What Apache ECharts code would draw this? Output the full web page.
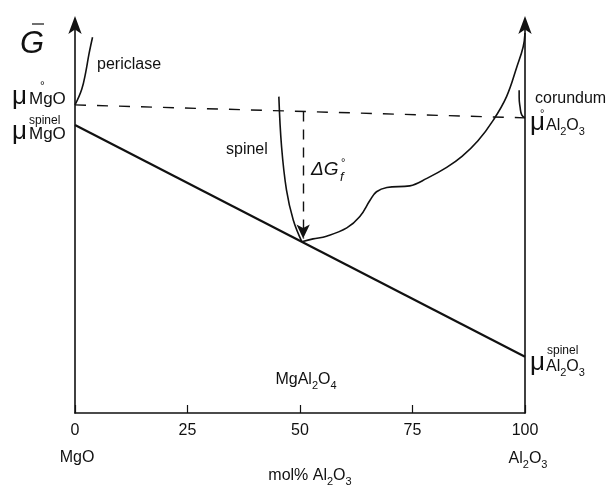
<!DOCTYPE html>
<html>
<head>
<meta charset="utf-8">
<script src="https://cdn.jsdelivr.net/npm/echarts@6/dist/echarts.min.js"></script>
<style>
  html, body { margin: 0; padding: 0; background: #fff; }
  #chart { width: 613px; height: 487px; }
</style>
</head>
<body>
<div id="chart"></div>
<script>
// composition axis (mol% Al2O3) and free energy in arbitrary units
const xTicks = [0, 25, 50, 75, 100]
const spinelLine = [[0, 73.3], [100, 14.3]]         // mu spinel MgO -> mu spinel Al2O3
const pureLine = [[0, 78.4], [100, 75.1]]           // mu° MgO -> mu° Al2O3
const periclase = [[0, 78.4], [1.5, 82.4], [2.4, 86.8], [3.1, 91.3], [3.9, 95.6]]
const corundum = [[100, 75.1], [99.3, 75.8], [98.9, 77.9], [98.7, 80.4], [98.7, 82.1]]
const spinelLeft = [[50.4, 43.6], [48.5, 49.1], [47.0, 56.7], [45.9, 67.8], [45.3, 80.5]]
const spinelRight = [[50.4, 43.6], [52.9, 44.3], [55.9, 45.0], [60.4, 47.1], [63.3, 50.0],
  [65.6, 54.2], [67.0, 56.3], [69.3, 57.4], [74.4, 57.8], [78.2, 59.7], [82.6, 62.5],
  [86.0, 65.3], [89.5, 69.2], [93.0, 74.6], [95.9, 80.5], [98.2, 88.1], [99.6, 93.2], [100, 96.7]]
const deltaG = [[50.7, 76.7], [50.7, 44.4]]

const FONT = '"Liberation Sans", Arial, sans-serif'
const INK = '#111'

function txt(x, y, s, size, extra) {
  let style = Object.assign({
    text: s, fontSize: size, fontFamily: FONT, fill: INK,
    textAlign: 'left', textVerticalAlign: 'middle', align: 'left', verticalAlign: 'middle'
  }, extra || {})
  return { type: 'text', x: x, y: y, silent: true, style: style }
}

// formula text, digits become subscripts
function chem(x, y, s, size, extra) {
  let rich = s.replace(/(\d)/g, '{s|$1}')
  return txt(x, y, rich, size, Object.assign({
    lineHeight: size + 6,
    rich: { s: { fontSize: Math.round(size * 0.7), lineHeight: Math.round(size * 0.7), fontFamily: FONT, fill: INK, verticalAlign: 'bottom' } }
  }, extra || {}))
}

const line = (data, extra) => Object.assign({
  type: 'line', data: data, symbol: 'none', silent: true,
  lineStyle: { color: INK, width: 1.6 }
}, extra || {})

let option = {
  animation: false,
  backgroundColor: '#fff',
  grid: { left: 75, right: 88, top: 20, bottom: 74 },
  xAxis: {
    type: 'value', min: 0, max: 100, interval: 25,
    axisLine: { lineStyle: { color: INK, width: 1.6 } },
    axisTick: { inside: true, length: 8, lineStyle: { color: INK, width: 1.2 } },
    axisLabel: {
      margin: 10, fontSize: 16, fontFamily: FONT, color: INK,
      formatter: v => xTicks.indexOf(v) >= 0 ? String(v) : ''
    },
    splitLine: { show: false }
  },
  yAxis: [0, 1].map(i => ({
    type: 'value', min: 0, max: 100, position: i ? 'right' : 'left',
    axisLine: {
      show: true, onZero: false, symbol: ['none', 'arrow'], symbolSize: [10, 18],
      symbolOffset: [0, 4],
      lineStyle: { color: INK, width: 1.6 }
    },
    axisTick: { show: false },
    axisLabel: { show: false },
    splitLine: { show: false }
  })),
  series: [
    line(spinelLine, { lineStyle: { color: INK, width: 2.2 } }),
    line(pureLine, { lineStyle: { color: INK, width: 1.4, type: [11, 11] } }),
    line(periclase, { smooth: 0.4 }),
    line(corundum, { smooth: 0.5 }),
    line(spinelLeft, { smooth: 0.4 }),
    line(spinelRight, { smooth: 0.4 }),
    line([], {
      markLine: {
        silent: true, symbol: ['none', 'arrow'], symbolSize: [10, 14],
        label: { show: false },
        lineStyle: { color: INK, width: 1.4, type: [10, 8] },
        data: [[{ coord: deltaG[0] }, { coord: deltaG[1] }]]
      }
    })
  ],
  graphic: [
    txt(20, 44, 'G', 31, { fontStyle: 'italic' }),
    { type: 'line', silent: true, shape: { x1: 32, y1: 24, x2: 44, y2: 24 }, style: { stroke: INK, lineWidth: 1.2 } },
    txt(97, 65, 'periclase', 16),
    // mu° MgO
    txt(12, 97, 'μ', 26),
    txt(40, 87, '°', 12),
    txt(29, 99, 'MgO', 17),
    // mu spinel MgO
    txt(29, 121, 'spinel', 12),
    txt(12, 132, 'μ', 26),
    txt(29, 134, 'MgO', 17),
    txt(535, 99, 'corundum', 16),
    // mu° Al2O3
    txt(530, 123, 'μ', 26),
    txt(540, 114, '°', 11),
    chem(546, 126, 'Al2O3', 16),
    // mu spinel Al2O3
    txt(530, 363, 'μ', 26),
    txt(547, 351, 'spinel', 12),
    chem(546, 367, 'Al2O3', 16),
    txt(226, 150, 'spinel', 16),
    txt(311, 170, 'ΔG', 19, { fontStyle: 'italic' }),
    txt(341, 163, '°', 11),
    txt(340, 177, 'f', 13, { fontStyle: 'italic' }),
    chem(306, 380, 'MgAl2O4', 16, { textAlign: 'center', align: 'center' }),
    txt(77, 458, 'MgO', 16, { textAlign: 'center', align: 'center' }),
    chem(528, 459, 'Al2O3', 16, { textAlign: 'center', align: 'center' }),
    chem(310, 476, 'mol% Al2O3', 16, { textAlign: 'center', align: 'center' })
  ]
}

let chart = echarts.init(document.getElementById('chart'))
chart.setOption(option)
</script>
</body>
</html>
